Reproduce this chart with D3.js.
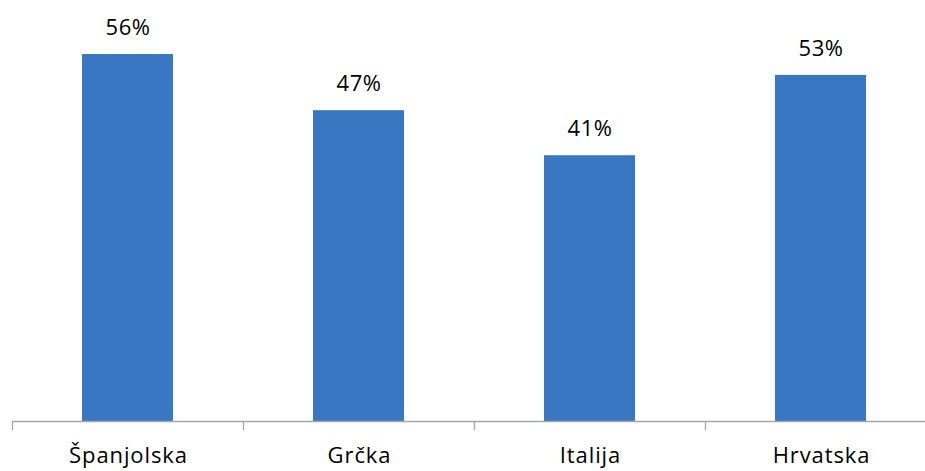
<!DOCTYPE html>
<html>
<head>
<meta charset="utf-8">
<script src="https://cdn.jsdelivr.net/npm/d3@7"></script>
<style>
  html, body { margin: 0; padding: 0; background: #fff; }
  svg { display: block; }
  text { font-family: "Open Sans", "Noto Sans", sans-serif; fill: #000; }
</style>
</head>
<body>
<script>
const categories = ["Španjolska", "Grčka", "Italija", "Hrvatska"];
const values = [56.2, 47.6, 40.7, 53.0];
const valueLabels = ["56%", "47%", "41%", "53%"];

const W = 925, H = 471;
const svg = d3.select("body").append("svg").attr("width", W).attr("height", H);

const baseY = 421;
const x = d3.scaleBand().domain(categories).range([12, 936])
  .paddingInner(0.606).paddingOuter(0.303);
const y = d3.scaleLinear().domain([0, 60]).range([baseY, baseY - 60 * 6.53]);

svg.selectAll("rect.bar").data(values).enter().append("rect")
  .attr("class", "bar")
  .attr("x", (d, i) => x(categories[i]))
  .attr("width", x.bandwidth())
  .attr("y", d => y(d))
  .attr("height", d => baseY - y(d))
  .attr("fill", "#3A77C3");

svg.selectAll("text.val").data(values).enter().append("text")
  .attr("class", "val")
  .attr("x", (d, i) => x(categories[i]) + x.bandwidth() / 2 + 0.5)
  .attr("y", d => y(d) - 19)
  .attr("text-anchor", "middle")
  .attr("font-size", 22)
  .attr("letter-spacing", 0.5)
  .text((d, i) => valueLabels[i]);

// axis
const step = x.step();
const g = svg.append("g");
g.append("line").attr("x1", 12).attr("x2", W).attr("y1", baseY + 0.5).attr("y2", baseY + 0.5)
  .attr("stroke", "#A6A6A6").attr("stroke-width", 1.3);
const tickXs = d3.range(categories.length + 1).map(i => 12 + i * step);
g.selectAll("line.tick").data(tickXs).enter().append("line")
  .attr("x1", d => Math.round(d) + 0.5).attr("x2", d => Math.round(d) + 0.5)
  .attr("y1", baseY).attr("y2", baseY + 9)
  .attr("stroke", "#A6A6A6").attr("stroke-width", 1.3);

svg.selectAll("text.cat").data(categories).enter().append("text")
  .attr("class", "cat")
  .attr("x", d => x(d) + x.bandwidth() / 2 + 1)
  .attr("y", 463)
  .attr("text-anchor", "middle")
  .attr("font-size", 22)
  .attr("letter-spacing", 0.9)
  .text(d => d);
</script>
</body>
</html>
